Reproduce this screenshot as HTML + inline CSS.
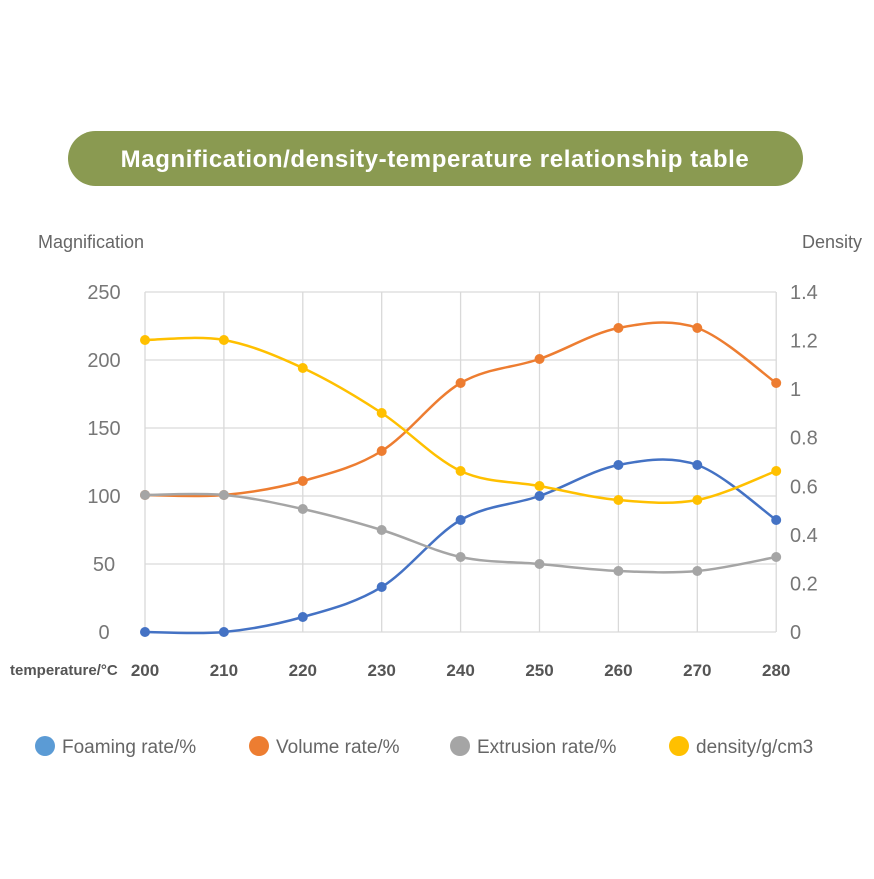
<!DOCTYPE html><html><head><style>body{margin:0;background:#fff}</style></head><body>
<svg id="s" width="874" height="874" xmlns="http://www.w3.org/2000/svg" font-family="Liberation Sans, sans-serif">
<rect x="68" y="131" width="735" height="55" rx="27.5" fill="#8a9a51"/>
<text x="435" y="167" text-anchor="middle" fill="#fff" font-size="24" font-weight="bold" letter-spacing="0.6">Magnification/density-temperature relationship table</text>
<text x="38" y="248" font-size="18" fill="#666">Magnification</text>
<text x="862" y="248" font-size="18" fill="#666" text-anchor="end">Density</text>
<g id="grid" stroke="#d9d9d9" stroke-width="1.3"></g>
<g id="lab" font-size="20" fill="#777"></g>
<g id="lines" fill="none" stroke-width="2.5"></g>
<text x="10" y="675" font-size="15" font-weight="bold" fill="#555">temperature/°C</text>
<g font-size="19" fill="#666">
<circle cx="45" cy="746" r="10" fill="#5b9bd5"/><text x="62" y="753">Foaming rate/%</text>
<circle cx="259" cy="746" r="10" fill="#ed7d31"/><text x="276" y="753">Volume rate/%</text>
<circle cx="460" cy="746" r="10" fill="#a5a5a5"/><text x="477" y="753">Extrusion rate/%</text>
<circle cx="679" cy="746" r="10" fill="#ffc000"/><text x="696" y="753">density/g/cm3</text>
</g>
</svg>
<script>
var ns="http://www.w3.org/2000/svg";function el(p,t,a,tx){var e=document.createElementNS(ns,t);for(var k in a)e.setAttribute(k,a[k]);if(tx!=null)e.textContent=tx;document.getElementById(p).appendChild(e);}
var X=[];for(var i=0;i<9;i++)X.push(145+i*78.9);
for(i=0;i<9;i++){el('grid','line',{x1:X[i],x2:X[i],y1:292,y2:632});el('lab','text',{x:X[i],y:676,'text-anchor':'middle','font-size':17,'font-weight':'bold',fill:'#555'},200+i*10);}
for(i=0;i<6;i++){var y=632-i*68;el('grid','line',{x1:145,x2:776,y1:y,y2:y});el('lab','text',{x:104,y:y+7,'text-anchor':'middle'},i*50);}
var rl=['0','0.2','0.4','0.6','0.8','1','1.2','1.4'];for(i=0;i<8;i++){el('lab','text',{x:790,y:632-i*48.57+7},rl[i]);}
var S=[["#4472c4",[632,632,617,587,520,496,465,465,520]],["#ed7d31",[495,495,481,451,383,359,328,328,383]],["#a5a5a5",[495,495,509,530,557,564,571,571,557]],["#ffc000",[340,340,368,413,471,486,500,500,471]]];
S.forEach(function(s){var Y=s[1],d="M"+X[0]+","+Y[0];for(var i=0;i<8;i++){var p0=i?i-1:i,p3=i<7?i+2:i+1,t=1/6;d+=" C"+(X[i]+(X[i+1]-X[p0])*t)+","+(Y[i]+(Y[i+1]-Y[p0])*t)+" "+(X[i+1]-(X[p3]-X[i])*t)+","+(Y[i+1]-(Y[p3]-Y[i])*t)+" "+X[i+1]+","+Y[i+1];}
el('lines','path',{d:d,stroke:s[0]});for(i=0;i<9;i++)el('lines','circle',{cx:X[i],cy:Y[i],r:5,fill:s[0],stroke:'none'});});
</script>
</body></html>
